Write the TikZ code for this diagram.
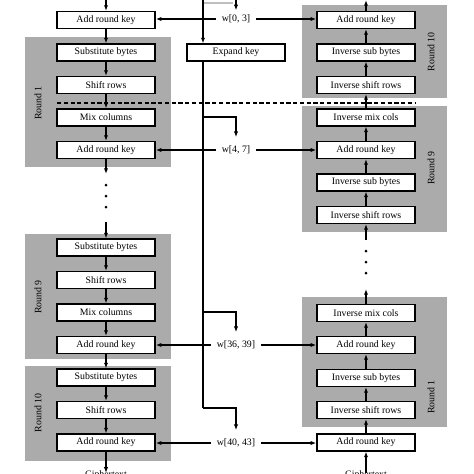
\documentclass[tikz,border=0pt]{standalone}
\usepackage{fontspec}
\setmainfont{Liberation Serif}
\usetikzlibrary{arrows.meta}

\tikzset{
  stage/.style={draw, fill=white, line width=1pt, inner sep=0pt,
    minimum width=2.45cm, minimum height=0.42cm,
    font=\fontsize{7}{8}\selectfont},
  panel/.style={fill=black!33},
  roundlbl/.style={rotate=90, font=\fontsize{7}{8}\selectfont},
  wlbl/.style={inner xsep=4pt, inner ysep=6pt, font=\fontsize{7}{8}\selectfont},
  flow/.style={line width=0.9pt, -{Latex[length=4pt,width=3pt]}},
  wire/.style={line width=0.9pt}
}

\begin{document}
\begin{tikzpicture}[x=0.025cm, y=-0.025cm]
  \useasboundingbox (0,0) rectangle (474,474);

  \fill[panel] (25,37) rectangle (171,167);
  \fill[panel] (25,234) rectangle (171,359);
  \fill[panel] (25,366) rectangle (171,461);
  \fill[panel] (302,5) rectangle (447,98);
  \fill[panel] (302,106) rectangle (447,232);
  \fill[panel] (302,297) rectangle (447,427);

  \node[roundlbl] (rl1) at (38,103) {Round 1};
  \node[roundlbl] (rl9) at (38,297) {Round 9};
  \node[roundlbl] (rl10) at (38,413) {Round 10};
  \node[roundlbl] (rr10) at (431,52) {Round 10};
  \node[roundlbl] (rr9) at (431,168) {Round 9};
  \node[roundlbl] (rr1) at (431,397) {Round 1};

  \draw[line width=0.9pt, dash pattern=on 3pt off 1.8pt] (57,103) -- (415,103);

  \node[stage] (L0) at (106,20) {Add round key};
  \node[stage] (L1) at (106,52.5) {Substitute bytes};
  \node[stage] (L2) at (106,85) {Shift rows};
  \node[stage] (L3) at (106,117.5) {Mix columns};
  \node[stage] (L4) at (106,150) {Add round key};
  \node[stage] (L5) at (106,247.5) {Substitute bytes};
  \node[stage] (L6) at (106,280) {Shift rows};
  \node[stage] (L7) at (106,312.5) {Mix columns};
  \node[stage] (L8) at (106,345) {Add round key};
  \node[stage] (L9) at (106,377.5) {Substitute bytes};
  \node[stage] (L10) at (106,410) {Shift rows};
  \node[stage] (L11) at (106,442.5) {Add round key};

  \node[stage] (R0) at (366,20) {Add round key};
  \node[stage] (R1) at (366,52.5) {Inverse sub bytes};
  \node[stage] (R2) at (366,85) {Inverse shift rows};
  \node[stage] (R3) at (366,117.5) {Inverse mix cols};
  \node[stage] (R4) at (366,150) {Add round key};
  \node[stage] (R5) at (366,182.5) {Inverse sub bytes};
  \node[stage] (R6) at (366,215) {Inverse shift rows};
  \node[stage] (R7) at (366,313) {Inverse mix cols};
  \node[stage] (R8) at (366,345) {Add round key};
  \node[stage] (R9) at (366,378) {Inverse sub bytes};
  \node[stage] (R10) at (366,410) {Inverse shift rows};
  \node[stage] (R11) at (366,442.5) {Add round key};

  \node[stage] (xkey) at (236,52.5) {Expand key};

  \node[wlbl] (w0) at (236,19) {w[0, 3]};
  \node[wlbl] (w4) at (236,150) {w[4, 7]};
  \node[wlbl] (w36) at (236,345) {w[36, 39]};
  \node[wlbl] (w40) at (236,443) {w[40, 43]};

  \node[anchor=north, inner sep=0pt, font=\fontsize{7}{8}\selectfont] (ctL) at (106,470) {Ciphertext};
  \node[anchor=north, inner sep=0pt, font=\fontsize{7}{8}\selectfont] (ctR) at (366,470) {Ciphertext};

  % encryption side
  \coordinate (inL) at (106,0);
  \coordinate (dotL1) at (106,174);
  \coordinate (dotL2) at (106,222);
  \draw[flow] (inL) -- (L0);
  \foreach \a/\b in {L0/L1, L1/L2, L2/L3, L3/L4, L5/L6, L6/L7, L7/L8, L8/L9, L9/L10, L10/L11}
    \draw[flow] (\a) -- (\b);
  \draw[flow] (L4) -- (dotL1);
  \draw[flow] (dotL2) -- (L5);
  \draw[flow] (L11) -- ([yshift=-2pt]ctL.north);
  \foreach \y in {185,196,207}
    \fill (106,\y) circle [radius=1.5];

  % decryption side
  \coordinate (outR) at (366,0);
  \coordinate (dotR1) at (366,240);
  \coordinate (dotR2) at (366,289);
  \draw[flow] (R0) -- (outR);
  \foreach \a/\b in {R1/R0, R2/R1, R3/R2, R4/R3, R5/R4, R6/R5, R8/R7, R9/R8, R10/R9, R11/R10}
    \draw[flow] (\a) -- (\b);
  \draw[flow] (dotR1) -- (R6);
  \draw[flow] (R7) -- (dotR2);
  \draw[flow] ([yshift=-2pt]ctR.north) -- (R11);
  \foreach \y in {251,262,273}
    \fill (366,\y) circle [radius=1.5];

  % key schedule
  \coordinate (kx) at (203,0);
  \coordinate (kin) at (236,0);
  \coordinate (b4) at (203,117);
  \coordinate (b36) at (203,312);
  \coordinate (b40) at (203,408);
  \draw[black!25, line width=0.9pt] (203,3) -- (233,3);
  \draw[flow] (kx) -- (kx |- xkey.north);
  \draw[flow] (kin) -- ([yshift=-3pt]w0.north);
  \draw[wire] (kx |- xkey.south) -- (b40);
  \draw[flow] (b4) -| (w4.north);
  \draw[flow] (b36) -| (w36.north);
  \draw[flow] (b40) -| (w40.north);

  \foreach \w/\l/\r in {w0/L0/R0, w4/L4/R4, w36/L8/R8, w40/L11/R11} {
    \draw[flow] (\w.west) -- (\w.west -| \l.east);
    \draw[flow] (\w.east) -- (\w.east -| \r.west);
  }
\end{tikzpicture}
\end{document}
